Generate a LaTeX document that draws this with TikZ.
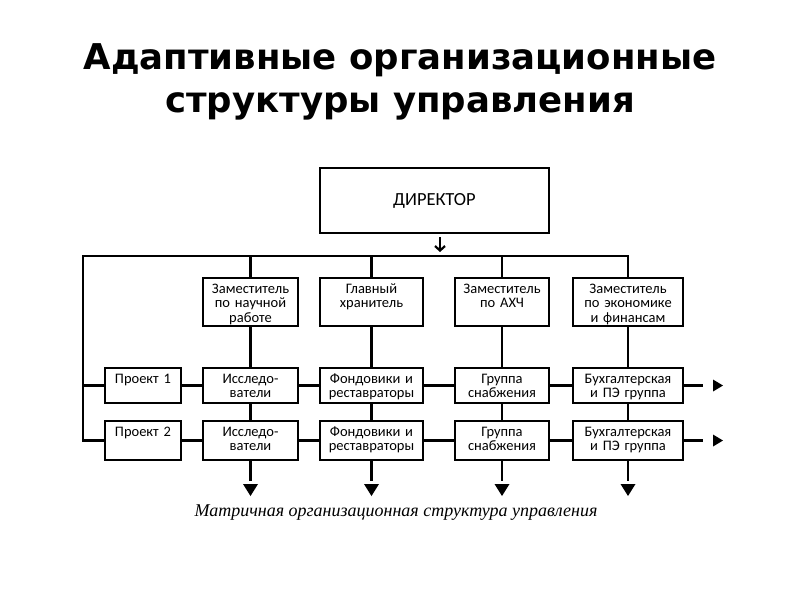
\documentclass[tikz,border=0pt]{standalone}
\usepackage{fontspec}
\setmainfont{Carlito}
\newfontfamily\titlefont{DejaVu Sans}
\newfontfamily\capfont{Liberation Serif}
\usetikzlibrary{arrows.meta}
\begin{document}
\begin{tikzpicture}[x=1pt,y=-1pt,
  box/.style={draw, line width=2.6pt, inner sep=0pt, outer sep=0pt, anchor=north west, align=center,
    font=\fontsize{14.5}{14.8}\selectfont, text height=15pt},
  dep/.style={box, text depth=33pt},
  rowa/.style={box, text depth=20pt},
  rowb/.style={box, text depth=24pt},
  conn/.style={line width=2.4pt},
  rtip/.pic={\fill (0,-6) -- (10,0) -- (0,6) -- cycle;},
  dtip/.pic={\fill (-7.5,0) -- (7.5,0) -- (0,12) -- cycle;},
]
\fill[white] (0,0) rectangle (800,600);
\useasboundingbox (0,0) rectangle (800,600);

\node[anchor=base, align=center, font=\titlefont\bfseries\fontsize{35.5}{43}\selectfont] (title) at (400,112)
  {Адаптивные организационные\\структуры управления};

\node[draw, line width=2.6pt, inner sep=0pt, outer sep=0pt, anchor=north west,
  minimum width=229pt, minimum height=65pt, font=\fontsize{18.5}{20}\selectfont] (dir) at (320,168) {ДИРЕКТОР};

\node[dep, text width=95pt] (d1) at (203,278) {Заместитель\\по научной\\работе};
\node[dep, text width=103pt] (d2) at (320,278) {Главный\\хранитель};
\node[dep, text width=94pt] (d3) at (455,278) {Заместитель\\по АХЧ};
\node[dep, text width=110pt] (d4) at (573,278) {Заместитель\\по экономике\\и финансам};

\node[rowa, text width=76pt] (p1) at (105,368) {Проект 1};
\node[rowa, text width=95pt] (a1) at (203,368) {Исследо-\\ватели};
\node[rowa, text width=103pt] (b1) at (320,368) {Фондовики и\\реставраторы};
\node[rowa, text width=94pt] (c1) at (455,368) {Группа\\снабжения};
\node[rowa, text width=110pt] (e1) at (573,368) {Бухгалтерская\\и ПЭ группа};

\node[rowb, text width=76pt] (p2) at (105,421) {Проект 2};
\node[rowb, text width=95pt] (a2) at (203,421) {Исследо-\\ватели};
\node[rowb, text width=103pt] (b2) at (320,421) {Фондовики и\\реставраторы};
\node[rowb, text width=94pt] (c2) at (455,421) {Группа\\снабжения};
\node[rowb, text width=110pt] (e2) at (573,421) {Бухгалтерская\\и ПЭ группа};

\node[anchor=base, font=\capfont\itshape\fontsize{18}{20}\selectfont] (cap) at (396,516)
  {Матричная организационная структура управления};

% director arrow
\coordinate (da) at (440,237);
\coordinate (db) at (440,252);
\draw[line width=2.2pt, -{Straight Barb[length=4.5pt,width=10pt]}] (da) -- (db);

% bus
\coordinate (corner) at (83,256);
\draw[conn] (p2.west) -| (corner) -| (d4.north);
\draw[conn] (p1.west) -- (corner |- p1.west);
\foreach \d in {d1,d2,d3} \draw[conn] (\d.north) -- (\d.north |- corner);

% verticals
\foreach \d/\a/\b in {d1/a1/a2, d2/b1/b2, d3/c1/c2, d4/e1/e2} {
  \draw[conn] (\d.south) -- (\a.north);
  \draw[conn] (\a.south) -- (\b.north);
  \draw[conn] (\b.south) -- ++(0,21) coordinate (\b end);
  \path (\b.south) ++(0,24) pic{dtip};
}

% horizontals
\draw[conn] (p1.east) -- (a1.west) (a1.east) -- (b1.west) (b1.east) -- (c1.west) (c1.east) -- (e1.west);
\draw[conn] (p2.east) -- (a2.west) (a2.east) -- (b2.west) (b2.east) -- (c2.west) (c2.east) -- (e2.west);
\draw[conn] (e1.east) -- ++(20,0) coordinate (e1end);
\draw[conn] (e2.east) -- ++(20,0) coordinate (e2end);
\path (e1.east) ++(30,0) pic{rtip};
\path (e2.east) ++(30,0) pic{rtip};
\end{tikzpicture}
\end{document}
